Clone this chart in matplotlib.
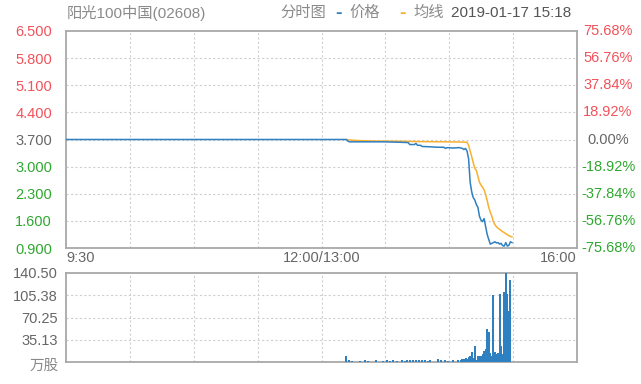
import matplotlib
matplotlib.use("Agg")
import matplotlib.pyplot as plt
from matplotlib.ticker import FixedLocator
from matplotlib.transforms import blended_transform_factory

plt.rcParams['font.family'] = ['Liberation Sans', 'Noto Sans CJK SC', 'DejaVu Sans']

# ---------------- data ----------------
title_left = "阳光100中国(02608)"
title_mode = "分时图"
legend_price = "价格"
legend_avg = "均线"
title_date = "2019-01-17 15:18"

price_ticks = [0.900, 1.600, 2.300, 3.000, 3.700, 4.400, 5.100, 5.800, 6.500]
pct_labels = ["-75.68%", "-56.76%", "-37.84%", "-18.92%", "0.00%",
              "18.92%", "37.84%", "56.76%", "75.68%"]
x_labels = ["9:30", "12:00/13:00", "16:00"]
vol_ticks = [35.13, 70.25, 105.38, 140.50]
vol_unit = "万股"

# minute index (0..330 = 9:30..16:00 trading minutes)
price_t = [0, 181, 182, 183, 205, 215, 221, 222, 225, 226, 227, 229, 230, 236,
           240, 244, 245, 246, 250, 254, 256, 257, 258, 259, 260, 261, 262,
           263, 264, 265, 266, 267, 268, 269, 270, 271, 272, 273, 274, 275,
           276, 277, 278, 279, 280, 281, 282, 283, 284, 285, 286, 287, 288]
price_v = [3.70, 3.70, 3.66, 3.64, 3.64, 3.63, 3.62, 3.57, 3.57, 3.60, 3.55,
           3.55, 3.52, 3.51, 3.50, 3.50, 3.47, 3.49, 3.48, 3.49, 3.47, 3.44,
           3.47, 3.40, 3.20, 2.60, 2.35, 2.20, 2.14, 2.02, 1.95, 1.72, 1.62,
           1.58, 1.66, 1.45, 1.25, 1.12, 1.00, 1.02, 1.04, 1.06, 1.03, 1.04,
           1.00, 1.02, 0.96, 0.95, 1.04, 0.95, 0.97, 1.06, 1.04]

avg_t = [181, 182, 190, 200, 215, 230, 245, 255, 259, 260, 261, 262, 263,
         264, 265, 266, 267, 268, 269, 270, 271, 272, 273, 274, 275, 276, 277,
         278, 279, 280, 281, 282, 283, 284, 285, 286, 287, 288]
avg_v = [3.70, 3.69, 3.67, 3.66, 3.655, 3.645, 3.64, 3.635, 3.63, 3.55,
         3.40, 3.26, 3.10, 2.96, 2.90, 2.75, 2.60, 2.52, 2.47, 2.40, 2.28,
         2.12, 1.95, 1.82, 1.72, 1.58, 1.50, 1.45, 1.41, 1.38, 1.35, 1.32,
         1.30, 1.27, 1.24, 1.22, 1.20, 1.19]

vol_t = [181, 183, 185, 190, 193, 195, 200, 205, 207, 209, 211, 214, 217, 219,
         220, 222, 224, 226, 228, 230, 232, 234, 235, 240, 242, 245, 247, 250,
         253, 255, 256, 257, 258, 259, 260, 261, 262, 263, 264, 265, 266, 267,
         268, 269, 270, 271, 272, 273, 274, 275, 276, 277, 278, 279, 280, 281,
         282, 283, 284, 285, 286, 287]
vol_v = [9, 2.5, 2, 2, 2.5, 2, 2.5, 2, 2.5, 2, 2.5, 2, 2.5, 2, 3, 2.5, 3.5, 3,
         3, 2.5, 2.5, 2, 2.5, 4, 2.5, 3, 2, 2.5, 2.5, 3.5, 4, 5, 6, 4, 8, 9,
         16, 6, 25, 3, 10, 9, 10, 12, 18, 20, 52, 48, 14, 10, 106, 16, 12, 14,
         108, 25, 12, 110, 140.5, 107, 80, 130]

# ---------------- style ----------------
BLUE = "#2f80c0"
ORANGE = "#f7b031"
RED = "#f2525a"
GREEN = "#2ea82e"
GRAY = "#666666"
BORDER = "#a8a8a8"
GRID = "#cfcfcf"
FS = 10.5
TFS = 11

fig = plt.figure(figsize=(6.41, 3.84), dpi=100)
W, H = 641, 384

def ax_rect(l, t, r, b):
    return [l / W, 1 - b / H, (r - l) / W, (b - t) / H]

ax = fig.add_axes(ax_rect(66, 31, 577, 248))
axv = fig.add_axes(ax_rect(66, 273, 577, 362))

XMAX = 330
vgrid = [XMAX * i / 8 for i in range(1, 8)]

# main price panel
ax.set_xlim(0, XMAX)
ax.set_ylim(price_ticks[0], price_ticks[-1])
ax.plot(avg_t, avg_v, color=ORANGE, lw=1.1, zorder=3)
ax.plot(price_t, price_v, color=BLUE, lw=1.1, zorder=4)
for y in price_ticks[1:-1]:
    ax.axhline(y, color=GRID, lw=0.8, ls=(0, (2, 2)), zorder=1)
for x in vgrid:
    ax.axvline(x, color=GRID, lw=0.8, ls=(0, (2, 2)), zorder=1)
ax.set_xticks([])
ax.yaxis.set_major_locator(FixedLocator(price_ticks))
ax.set_yticklabels([f"{v:.3f}" for v in price_ticks])
ax.tick_params(axis='y', length=0, pad=10, labelsize=FS)
mid = len(price_ticks) // 2
for i, lab in enumerate(ax.get_yticklabels()):
    lab.set_color(GREEN if i < mid else (GRAY if i == mid else RED))

# right percentage labels (centered column)
rtrans = blended_transform_factory(fig.transFigure, ax.transData)
for i, (v, lab) in enumerate(zip(price_ticks, pct_labels)):
    c = GREEN if i < mid else (GRAY if i == mid else RED)
    ax.text(608 / W, v, lab, transform=rtrans, ha='center', va='center',
            fontsize=FS, color=c, clip_on=False)

for s in ax.spines.values():
    s.set_color(BORDER)
    s.set_linewidth(1.3)

# x labels
ax.text(0, -0.045, x_labels[0], transform=ax.transAxes, ha='left', va='center',
        fontsize=FS, color=GRAY)
ax.text(0.5, -0.045, x_labels[1], transform=ax.transAxes, ha='center', va='center',
        fontsize=FS, color=GRAY)
ax.text(1, -0.045, x_labels[2], transform=ax.transAxes, ha='right', va='center',
        fontsize=FS, color=GRAY)

# volume panel
axv.set_xlim(0, XMAX)
axv.set_ylim(0, vol_ticks[-1])
axv.bar(vol_t, vol_v, width=1.3, color=BLUE, zorder=3, linewidth=0)
for y in vol_ticks[:-1]:
    axv.axhline(y, color=GRID, lw=0.8, ls=(0, (2, 2)), zorder=1)
for x in vgrid:
    axv.axvline(x, color=GRID, lw=0.8, ls=(0, (2, 2)), zorder=1)
axv.set_xticks([])
axv.yaxis.set_major_locator(FixedLocator(vol_ticks))
axv.set_yticklabels([f"{v:.2f}" for v in vol_ticks])
axv.tick_params(axis='y', length=0, pad=6, labelsize=FS, colors=GRAY)
fig.text(59 / W, 1 - 366 / H, vol_unit, ha='right', va='center', fontsize=FS,
         color="#888888")
for s in axv.spines.values():
    s.set_color(BORDER)
    s.set_linewidth(1.3)

# title row
ty = 1 - 13 / H
fig.text(67 / W, ty, title_left, ha='left', va='center', fontsize=TFS, color="#8a8a8a")
fig.text(280 / W, ty, title_mode, ha='left', va='center', fontsize=TFS, color="#8a8a8a")
fig.text(335 / W, ty, "-", ha='left', va='center', fontsize=TFS + 3, color=BLUE, fontweight='bold')
fig.text(349 / W, ty, legend_price, ha='left', va='center', fontsize=TFS, color="#8a8a8a")
fig.text(399 / W, ty, "-", ha='left', va='center', fontsize=TFS + 3, color=ORANGE, fontweight='bold')
fig.text(413 / W, ty, legend_avg, ha='left', va='center', fontsize=TFS, color="#8a8a8a")
fig.text(451 / W, ty, title_date, ha='left', va='center', fontsize=TFS, color="#555555")

fig.savefig("out.png", dpi=100)
